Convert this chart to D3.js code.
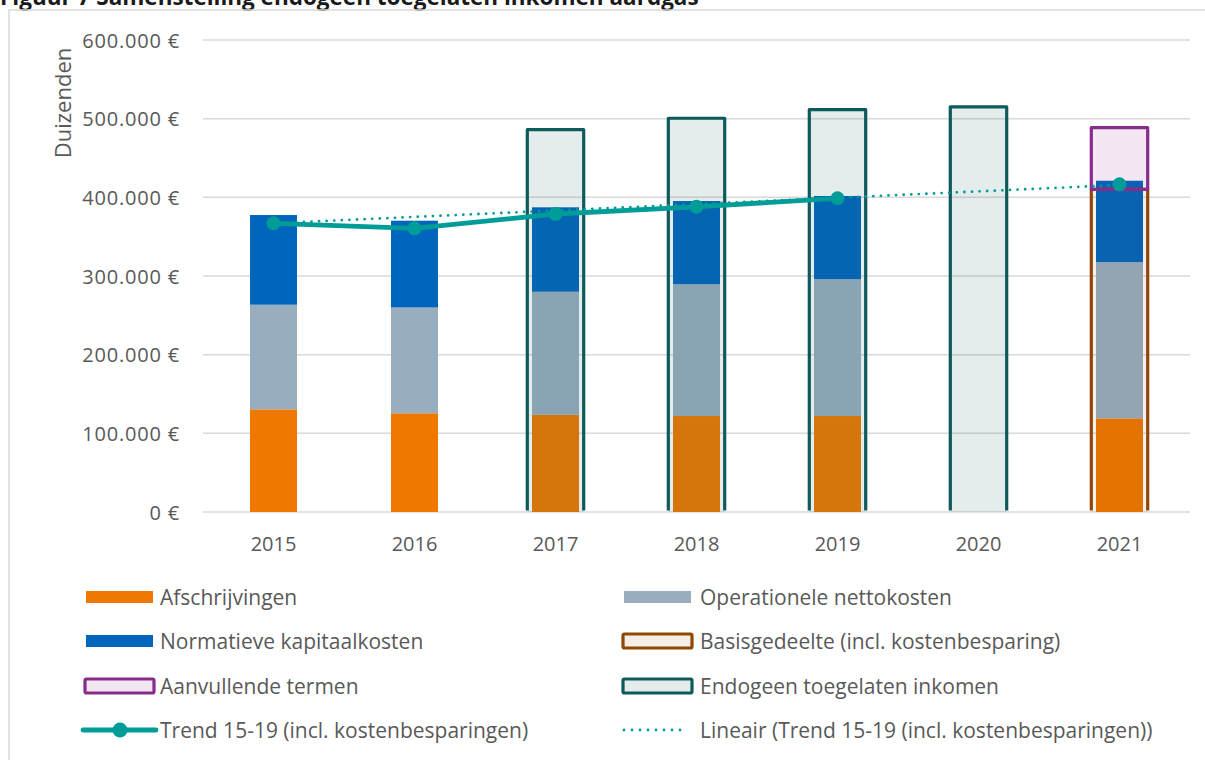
<!DOCTYPE html>
<html>
<head>
<meta charset="utf-8">
<script src="https://cdn.jsdelivr.net/npm/d3@7"></script>
<style>
  body { margin: 0; background: #fff; overflow: hidden; }
  text { font-family: "Open Sans", sans-serif; fill: #595959; }
</style>
</head>
<body>
<div id="chart"></div>
<script>
// values (euro, "Duizenden")
var years = ["2015", "2016", "2017", "2018", "2019", "2020", "2021"];
var afschrijvingen = [130500, 125500, 123500, 122000, 122000, null, 119000];
var operationeel   = [133000, 134500, 156500, 167500, 174000, null, 198500];
var kapitaal       = [114000, 110300, 107300, 105800, 105700, null, 103600];
var endogeen       = [null, null, 486000, 500500, 511500, 515000, null];
var basisdeel      = [null, null, null, null, null, null, 410000];
var aanvullend     = [null, null, null, null, null, null, 78500];
var trend          = [367000, 360600, 378800, 388000, 398700, null, 416500];
var lineairEnds    = [367000, 415700];   // dotted trend, 2015 and 2021
var yTicks = [0, 100000, 200000, 300000, 400000, 500000, 600000];

var W = 1205, H = 760;
var colOrange = "#EE7800", colGray = "#98ADBE", colBlue = "#0066BD";
var colTeal = "#0E5A5A", colBrown = "#904800", colPurple = "#882C8C";
var colTrend = "#009C97", colGrid = "#D9D9D9";

var svg = d3.select("#chart").append("svg")
    .attr("width", W)
    .attr("height", H);

// title (cut by the top of the window) and frame
svg.append("text")
    .attr("x", 0).attr("y", 5)
    .style("font-size", "22.5px").style("font-weight", "bold").style("fill", "#1a1a1a")
    .text("Figuur 7 Samenstelling endogeen toegelaten inkomen aardgas");

svg.append("rect")
    .attr("x", 9).attr("y", 10)
    .attr("width", W + 20).attr("height", H)
    .attr("fill", "none").attr("stroke", colGrid).attr("stroke-width", 1.5);

var x = d3.scaleBand().domain(years).range([203, 1190])
    .paddingInner(2 / 3).paddingOuter(1 / 3);
var xo = d3.scaleBand().domain(years).range([203, 1190])
    .paddingInner(0.6).paddingOuter(0.3);
var y = d3.scaleLinear().domain([0, 600000]).range([512, 40]);

var nl = d3.formatLocale({ decimal: ",", thousands: ".", grouping: [3], currency: ["", " €"] });
var fmt = nl.format(",.0f");

// grid
svg.append("g").selectAll("line")
    .data(yTicks)
    .enter().append("line")
    .attr("x1", 203).attr("x2", 1190)
    .attr("y1", function(d) { return y(d); })
    .attr("y2", function(d) { return y(d); })
    .attr("stroke", colGrid).attr("stroke-width", 1.5);

svg.append("g").selectAll("text")
    .data(yTicks)
    .enter().append("text")
    .attr("x", 180)
    .attr("y", function(d) { return y(d); })
    .attr("text-anchor", "end")
    .attr("dominant-baseline", "central")
    .style("font-size", "20px").style("letter-spacing", "0.8px")
    .text(function(d) { return fmt(d) + " €"; });

svg.append("text")
    .attr("transform", "translate(62,103) rotate(-90)")
    .attr("text-anchor", "middle")
    .attr("dominant-baseline", "central")
    .style("font-size", "22px")
    .text("Duizenden");

svg.append("g").selectAll("text")
    .data(years)
    .enter().append("text")
    .attr("x", function(d) { return x(d) + x.bandwidth() / 2; })
    .attr("y", 543)
    .attr("text-anchor", "middle")
    .attr("dominant-baseline", "central")
    .style("font-size", "20px")
    .text(function(d) { return d; });

// stacked bars
var rows = years.map(function(yr, i) {
  return { year: yr, a: afschrijvingen[i], o: operationeel[i], k: kapitaal[i] };
}).filter(function(d) { return d.a != null; });

var stack = d3.stack().keys(["a", "o", "k"]);
var colors = { a: colOrange, o: colGray, k: colBlue };

svg.append("g").selectAll("g")
    .data(stack(rows))
    .enter().append("g")
    .attr("fill", function(s) { return colors[s.key]; })
    .selectAll("rect")
    .data(function(s) { return s; })
    .enter().append("rect")
    .attr("x", function(d) { return x(d.data.year); })
    .attr("width", x.bandwidth())
    .attr("y", function(d) { return y(d[1]); })
    .attr("height", function(d) { return y(d[0]) - y(d[1]); });

// outlined bars (open at the bottom)
function outlined(values, fill, opacity, stroke) {
  var data = years.map(function(yr, i) { return { year: yr, v: values[i] }; })
      .filter(function(d) { return d.v != null; });
  var g = svg.append("g");
  g.selectAll("rect")
      .data(data)
      .enter().append("rect")
      .attr("x", function(d) { return xo(d.year); })
      .attr("width", xo.bandwidth())
      .attr("y", function(d) { return y(d.v); })
      .attr("height", function(d) { return y(0) - y(d.v); })
      .attr("fill", fill).attr("fill-opacity", opacity);
  g.selectAll("path")
      .data(data)
      .enter().append("path")
      .attr("d", function(d) {
        var x0 = xo(d.year), x1 = x0 + xo.bandwidth();
        return "M" + x0 + "," + (y(0) - 1.5) + "V" + y(d.v) + "H" + x1 + "V" + (y(0) - 1.5);
      })
      .attr("fill", "none").attr("stroke", stroke)
      .attr("stroke-width", 3.2).attr("stroke-linejoin", "round");
}
outlined(endogeen, "rgb(30,95,100)", 0.12, colTeal);
outlined(basisdeel, "rgb(120,60,30)", 0.08, colBrown);

// aanvullende termen on top of basisgedeelte
var extra = years.map(function(yr, i) { return { year: yr, b: basisdeel[i], v: aanvullend[i] }; })
    .filter(function(d) { return d.v != null; });
svg.append("g").selectAll("rect")
    .data(extra)
    .enter().append("rect")
    .attr("x", function(d) { return xo(d.year); })
    .attr("width", xo.bandwidth())
    .attr("y", function(d) { return y(d.b + d.v); })
    .attr("height", function(d) { return y(d.b) - y(d.b + d.v); })
    .attr("fill", "rgb(140,40,140)").attr("fill-opacity", 0.11)
    .attr("stroke", colPurple).attr("stroke-width", 3.2).attr("stroke-linejoin", "round");

// linear trend (dotted)
var cx = function(yr) { return x(yr) + x.bandwidth() / 2; };
svg.append("line")
    .attr("x1", cx(years[0])).attr("y1", y(lineairEnds[0]))
    .attr("x2", cx(years[years.length - 1])).attr("y2", y(lineairEnds[1]))
    .attr("stroke", colTrend).attr("stroke-width", 2.8)
    .attr("stroke-linecap", "round").attr("stroke-dasharray", "0,7.6");

// trend line with markers
var trendPts = years.map(function(yr, i) { return { year: yr, v: trend[i] }; });
var line = d3.line()
    .defined(function(d) { return d.v != null; })
    .x(function(d) { return cx(d.year); })
    .y(function(d) { return y(d.v); });

svg.append("path")
    .datum(trendPts)
    .attr("d", line)
    .attr("fill", "none").attr("stroke", colTrend)
    .attr("stroke-width", 4.8).attr("stroke-linejoin", "round");

svg.append("g").selectAll("circle")
    .data(trendPts.filter(function(d) { return d.v != null; }))
    .enter().append("circle")
    .attr("cx", function(d) { return cx(d.year); })
    .attr("cy", function(d) { return y(d.v); })
    .attr("r", 7)
    .attr("fill", colTrend);

// legend
var legendItems = [
  { label: "Afschrijvingen", type: "solid", color: colOrange, col: 0, row: 0 },
  { label: "Operationele nettokosten", type: "solid", color: colGray, col: 1, row: 0 },
  { label: "Normatieve kapitaalkosten", type: "solid", color: colBlue, col: 0, row: 1 },
  { label: "Basisgedeelte (incl. kostenbesparing)", type: "outline", color: colBrown, fill: "#F5EDE8", col: 1, row: 1 },
  { label: "Aanvullende termen", type: "outline", color: colPurple, fill: "#F3E6F3", col: 0, row: 2 },
  { label: "Endogeen toegelaten inkomen", type: "outline", color: colTeal, fill: "#E4ECEC", col: 1, row: 2 },
  { label: "Trend 15-19 (incl. kostenbesparingen)", type: "marker", color: colTrend, col: 0, row: 3 },
  { label: "Lineair (Trend 15-19 (incl. kostenbesparingen))", type: "dotted", color: colTrend, col: 1, row: 3 }
];
var legX = [86, 624], legTextX = [160, 700], legY = [597, 641, 686, 730];

var leg = svg.append("g").selectAll("g")
    .data(legendItems)
    .enter().append("g")
    .attr("transform", function(d) { return "translate(" + legX[d.col] + "," + legY[d.row] + ")"; });

leg.each(function(d) {
  var g = d3.select(this);
  if (d.type === "solid") {
    g.append("rect").attr("x", 0).attr("y", -6).attr("width", 67).attr("height", 12).attr("fill", d.color);
  } else if (d.type === "outline") {
    g.append("rect").attr("x", -1).attr("y", -7).attr("width", 69).attr("height", 14)
        .attr("rx", 1.5).attr("fill", d.fill).attr("stroke", d.color).attr("stroke-width", 3.2);
  } else if (d.type === "marker") {
    g.append("line").attr("x1", -3).attr("x2", 70).attr("stroke", d.color)
        .attr("stroke-width", 4.8).attr("stroke-linecap", "round");
    g.append("circle").attr("cx", 34).attr("r", 7.5).attr("fill", d.color);
  } else {
    g.append("line").attr("x1", 0).attr("x2", 64).attr("stroke", d.color)
        .attr("stroke-width", 2.8).attr("stroke-linecap", "round").attr("stroke-dasharray", "0,8");
  }
});

leg.append("text")
    .attr("x", function(d) { return legTextX[d.col] - legX[d.col]; })
    .attr("y", 0)
    .attr("dominant-baseline", "central")
    .style("font-size", "21px")
    .text(function(d) { return d.label; });
</script>
</body>
</html>
